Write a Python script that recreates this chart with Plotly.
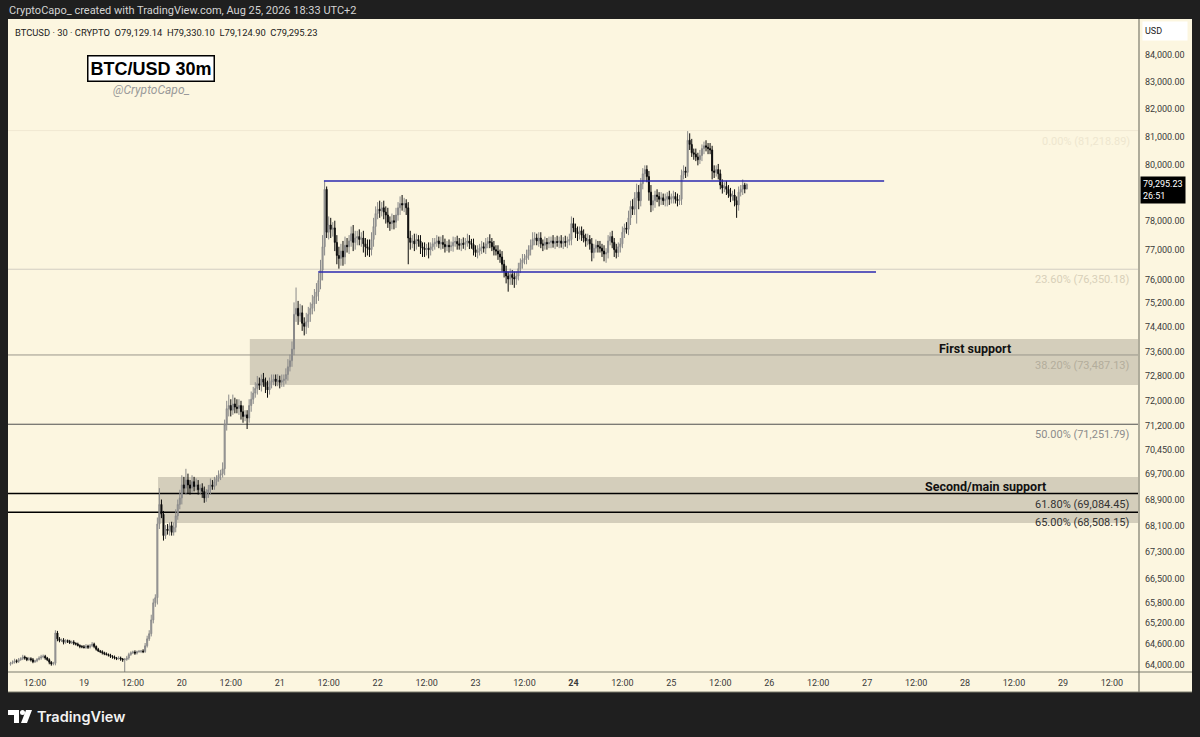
import math
import pandas as pd
import plotly.graph_objects as go

# =====================================
# DATA
# =====================================

first_open = 64020

# 30m closes, Aug 18 06:00 -> Aug 25 18:30
closes = [
    64050, 64080, 64120, 64100, 64150, 64180, 64230, 64200, 64150, 64180,
    64150, 64090, 64120, 64160, 64200, 64230, 64250, 64200, 64150, 64080,
    64030, 64050, 64920, 64750, 64700, 64720, 64650, 64700, 64680, 64640,
    64660, 64620, 64600, 64560, 64530, 64520, 64500, 64540, 64510, 64550,
    64600, 64530, 64450, 64400, 64380, 64350, 64320, 64300, 64280, 64250,
    64230, 64200, 64180, 64200, 64170, 64150, 64160, 64200, 64300, 64350,
    64370, 64340, 64380, 64390, 64400, 64380, 64550, 64750, 64900, 65300,
    65800, 65950, 68150, 68750, 68450, 67800, 68000, 67950, 68100, 67900,
    68050, 68400, 68750, 68950, 69350, 69250, 69500, 69350, 69250, 69450,
    69300, 69350, 69200, 69250, 69150, 68950, 69100, 69200, 69350, 69300,
    69450, 69550, 69650, 69700, 69850, 71250, 71750, 71850, 71700, 71900,
    71800, 71750, 71850, 71650, 71500, 71550, 71450, 71850, 72050, 72250,
    72400, 72550, 72500, 72700, 72600, 72450, 72350, 72600, 72650, 72700,
    72620, 72660, 72600, 72650, 72700, 72850, 73100, 73300, 73680, 74830,
    75030, 74780, 74880, 74530, 74430, 74580, 74830, 75030, 75180, 75430,
    75580, 75970, 76320, 77120, 79120, 77620, 77870, 77720, 77770, 77270,
    76820, 76720, 76970, 76770, 77170, 77120, 77320, 77570, 77270, 77420,
    77470, 77370, 77420, 77220, 77120, 77070, 77020, 77370, 77820, 78270,
    78420, 78370, 78470, 78320, 78220, 77970, 77920, 78020, 77970, 78220,
    78470, 78620, 78570, 78620, 78470, 77420, 77270, 77320, 77220, 77370,
    77320, 77120, 77070, 77020, 77070, 77020, 77120, 77220, 77270, 77320,
    77220, 77270, 77200, 77120, 77170, 77120, 77150, 77270, 77300, 77220,
    77170, 77240, 77200, 77270, 77320, 77240, 77200, 77020, 76920, 76970,
    77070, 77120, 77070, 77220, 77300, 77270, 77120, 77020, 76970, 76870,
    76770, 76520, 76270, 76120, 76020, 76170, 76070, 76020, 76120, 76370,
    76570, 76670, 76720, 76820, 77020, 77170, 77370, 77420, 77320, 77420,
    77220, 77170, 77270, 77220, 77270, 77320, 77240, 77300, 77270, 77320,
    77240, 77300, 77270, 77320, 77370, 77920, 77770, 77620, 77570, 77670,
    77520, 77420, 77320, 77370, 77220, 76920, 77070, 77170, 77120, 77070,
    76970, 76870, 76920, 77320, 77470, 77270, 77020, 76920, 77120, 77220,
    77620, 77770, 77720, 78120, 78520, 78420, 78820, 79020, 78720, 79320,
    79670, 79820, 79570, 79020, 78570, 78720, 78920, 78870, 78770, 78820,
    78720, 78770, 78870, 78770, 78820, 78870, 78770, 78720, 78770, 79620,
    79770, 79720, 80870, 80720, 80420, 80370, 80270, 80170, 80320, 80570,
    80670, 80620, 80570, 80520, 79770, 79720, 79820, 79670, 79270, 79170,
    79220, 79120, 78970, 78870, 78920, 78720, 78570, 79020, 79120, 79270,
    79129.14, 79295.23,
]

# wick above the body
wick_up = [
    40, 50, 60, 40, 50, 40, 60, 40, 30, 50,
    40, 50, 30, 40, 50, 60, 50, 40, 30, 40,
    30, 40, 80, 60, 50, 40, 50, 40, 30, 40,
    40, 50, 30, 40, 30, 40, 50, 60, 40, 50,
    60, 40, 30, 40, 30, 40, 30, 40, 30, 40,
    30, 40, 30, 50, 40, 30, 40, 60, 50, 40,
    40, 50, 30, 40, 30, 50, 80, 90, 100, 150,
    120, 100, 200, 500, 150, 100, 120, 150, 100, 120,
    150, 200, 150, 250, 300, 250, 350, 200, 150, 200,
    150, 200, 150, 120, 150, 150, 120, 150, 200, 150,
    150, 100, 150, 120, 200, 150, 250, 350, 200, 300,
    200, 250, 200, 150, 200, 150, 150, 200, 250, 200,
    200, 250, 200, 150, 200, 150, 200, 150, 200, 150,
    150, 200, 150, 200, 150, 200, 250, 200, 250, 400,
    700, 250, 300, 250, 200, 300, 250, 200, 300, 250,
    300, 250, 350, 400, 280, 100, 300, 250, 200, 250,
    250, 300, 250, 350, 300, 250, 200, 250, 300, 250,
    200, 250, 200, 250, 200, 250, 300, 250, 300, 250,
    250, 300, 200, 250, 200, 250, 200, 250, 200, 250,
    200, 250, 300, 200, 150, 200, 250, 200, 250, 200,
    150, 200, 150, 200, 150, 200, 150, 200, 150, 200,
    150, 200, 250, 200, 150, 200, 150, 200, 150, 200,
    200, 150, 200, 150, 250, 200, 150, 200, 150, 200,
    150, 200, 150, 200, 150, 250, 150, 200, 150, 200,
    150, 200, 150, 200, 150, 200, 150, 200, 150, 200,
    150, 200, 150, 200, 150, 200, 250, 200, 150, 200,
    200, 150, 200, 150, 200, 150, 200, 150, 200, 150,
    200, 150, 200, 150, 200, 250, 200, 150, 200, 150,
    150, 200, 150, 200, 150, 200, 150, 200, 150, 200,
    150, 200, 150, 200, 150, 200, 150, 200, 150, 200,
    200, 150, 200, 250, 200, 250, 200, 300, 250, 200,
    200, 150, 150, 200, 250, 200, 150, 200, 150, 200,
    150, 200, 150, 200, 150, 200, 150, 200, 150, 200,
    200, 150, 330, 250, 200, 150, 200, 150, 200, 150,
    150, 200, 150, 200, 150, 200, 150, 200, 150, 200,
    150, 200, 150, 200, 150, 200, 150, 200, 150, 200,
    80, 34.87,
]

# wick below the body
wick_dn = [
    40, 30, 40, 50, 40, 30, 40, 50, 40, 30,
    50, 40, 30, 40, 30, 50, 40, 50, 40, 60,
    50, 40, 60, 70, 50, 40, 60, 40, 50, 40,
    40, 50, 40, 30, 50, 40, 30, 40, 50, 40,
    40, 50, 40, 30, 40, 50, 40, 30, 40, 50,
    50, 40, 40, 30, 50, 60, 450, 40, 50, 40,
    40, 50, 40, 30, 50, 40, 30, 50, 60, 80,
    100, 120, 200, 150, 120, 150, 100, 120, 150, 100,
    100, 150, 120, 150, 200, 150, 200, 250, 200, 150,
    150, 120, 150, 150, 200, 150, 120, 150, 150, 100,
    100, 120, 100, 150, 120, 200, 200, 250, 200, 150,
    200, 150, 200, 250, 200, 150, 350, 150, 200, 150,
    150, 200, 150, 200, 150, 200, 250, 150, 200, 150,
    150, 150, 200, 150, 200, 150, 200, 150, 200, 200,
    250, 300, 200, 250, 300, 250, 200, 250, 200, 250,
    250, 300, 300, 350, 300, 200, 250, 300, 250, 300,
    300, 350, 250, 300, 250, 200, 250, 200, 300, 250,
    250, 200, 250, 300, 350, 250, 250, 200, 250, 300,
    200, 250, 200, 250, 300, 200, 250, 200, 250, 200,
    200, 250, 200, 250, 250, 900, 250, 200, 250, 200,
    200, 250, 300, 250, 200, 300, 200, 150, 200, 150,
    150, 200, 150, 200, 150, 200, 150, 200, 150, 200,
    150, 200, 150, 200, 150, 200, 150, 200, 150, 200,
    150, 200, 150, 200, 150, 200, 150, 200, 150, 200,
    200, 250, 200, 250, 430, 200, 250, 300, 200, 150,
    150, 200, 150, 200, 150, 200, 150, 200, 150, 200,
    150, 200, 150, 200, 150, 200, 150, 200, 150, 200,
    150, 200, 150, 200, 150, 200, 150, 200, 250, 200,
    200, 150, 200, 150, 200, 300, 200, 150, 200, 150,
    200, 250, 300, 200, 150, 200, 250, 200, 150, 200,
    150, 200, 150, 200, 250, 200, 200, 900, 300, 200,
    200, 250, 200, 300, 250, 200, 250, 200, 250, 200,
    150, 200, 250, 200, 150, 200, 150, 200, 150, 200,
    150, 200, 150, 200, 150, 200, 150, 200, 150, 200,
    200, 150, 200, 150, 300, 200, 150, 200, 150, 200,
    150, 200, 150, 200, 150, 200, 450, 200, 150, 200,
    150, 4.24,
]

price_ticks = [84000, 83000, 82000, 81000, 80000, 78000, 77000, 76000,
               75200, 74400, 73600, 72800, 72000, 71200, 70450, 69700,
               68900, 68100, 67300, 66500, 65800, 65200, 64600, 64000]

date_ticks = ["2026-08-18 12:00", "2026-08-19", "2026-08-19 12:00", "2026-08-20",
              "2026-08-20 12:00", "2026-08-21", "2026-08-21 12:00", "2026-08-22",
              "2026-08-22 12:00", "2026-08-23", "2026-08-23 12:00", "2026-08-24",
              "2026-08-24 12:00", "2026-08-25", "2026-08-25 12:00", "2026-08-26",
              "2026-08-26 12:00", "2026-08-27", "2026-08-27 12:00", "2026-08-28",
              "2026-08-28 12:00", "2026-08-29", "2026-08-29 12:00"]
date_labels = ["12:00", "19", "12:00", "20", "12:00", "21", "12:00", "22",
               "12:00", "23", "12:00", "<b>24</b>", "12:00", "25", "12:00", "26",
               "12:00", "27", "12:00", "28", "12:00", "29", "12:00"]

# fibonacci retracement
fib_levels = [81218.89, 76350.18, 73487.13, 71251.79, 69084.45, 68508.15]
fib_names = ["0.00%", "23.60%", "38.20%", "50.00%", "61.80%", "65.00%"]

# range box (blue lines)
range_top = 79410
range_bottom = 76255
range_top_span = ["2026-08-21 10:50", "2026-08-27 04:10"]
range_bottom_span = ["2026-08-21 09:25", "2026-08-27 02:10"]

# support zones
zone_names = ["First support", "Second/main support"]
zone_tops = [74011, 69595]
zone_bottoms = [72509, 68183]
zone_starts = ["2026-08-20 16:40", "2026-08-19 18:10"]

last_price = "79,295.23"
countdown = "26:51"

# =====================================
# CANDLES
# =====================================

times = pd.date_range("2026-08-18 06:00", periods=len(closes), freq="30min")
opens = [first_open] + closes[:-1]
highs = [max(o, c) + w for o, c, w in zip(opens, closes, wick_up)]
lows = [min(o, c) - w for o, c, w in zip(opens, closes, wick_dn)]

X_START = "2026-08-18 05:23"
X_END = "2026-08-29 18:24"

CREAM = "#fcf6e0"
DARK = "#1f1f1f"
FONT = "Roboto, Liberation Sans, Arial"

# pixel helpers (plot area is 8..1138 x 20..672)
PL, PR, PT, PB = 8, 1138, 20, 672


def px(x):
    return (x - PL) / (PR - PL)


def py(y):
    return (PB - y) / (PB - PT)


fig = go.Figure()

fig.add_trace(
    go.Candlestick(
        x=times,
        open=opens,
        high=highs,
        low=lows,
        close=closes,
        increasing=dict(line=dict(color="#8a8a8a", width=1), fillcolor="#a6a6a6"),
        decreasing=dict(line=dict(color="#0a0a0a", width=1), fillcolor="#0a0a0a"),
        whiskerwidth=0,
        showlegend=False,
        hoverinfo="skip",
    )
)

shapes = []

# cream frame + right price scale + time scale
shapes.append(dict(type="rect", xref="paper", yref="paper",
                   x0=px(8), x1=px(1192), y0=py(692), y1=py(19),
                   fillcolor=CREAM, line=dict(width=0), layer="below"))

# support zones
for top, bot, start in zip(zone_tops, zone_bottoms, zone_starts):
    shapes.append(dict(type="rect", xref="x", yref="y",
                       x0=start, x1=X_END, y0=bot, y1=top,
                       fillcolor="#d4cebb", line=dict(width=0), layer="below"))

# fib lines (drawn over the zones)
fib_line_colors = ["#f0e8d2", "#d2cdc2", "#9a968c", "#4f4f4f", "#000000", "#000000"]
fib_line_widths = [1, 1, 1, 1, 1.5, 1.5]
for lvl, col, w in zip(fib_levels, fib_line_colors, fib_line_widths):
    shapes.append(dict(type="line", xref="x", yref="y",
                       x0=X_START, x1=X_END, y0=lvl, y1=lvl,
                       line=dict(color=col, width=w), layer="below"))

# blue range lines
shapes.append(dict(type="line", xref="x", yref="y",
                   x0=range_top_span[0], x1=range_top_span[1],
                   y0=range_top, y1=range_top,
                   line=dict(color="#2b28b0", width=1.5)))
shapes.append(dict(type="line", xref="x", yref="y",
                   x0=range_bottom_span[0], x1=range_bottom_span[1],
                   y0=range_bottom, y1=range_bottom,
                   line=dict(color="#2b28b0", width=1.5)))

# scale borders
shapes.append(dict(type="line", xref="paper", yref="paper",
                   x0=px(1139), x1=px(1139), y0=py(692), y1=py(19),
                   line=dict(color="#7b7b6c", width=1.2)))
shapes.append(dict(type="line", xref="paper", yref="paper",
                   x0=px(8), x1=px(1192), y0=py(672), y1=py(672),
                   line=dict(color="#7b7b6c", width=1.2)))
shapes.append(dict(type="line", xref="paper", yref="paper",
                   x0=px(8), x1=px(1192), y0=py(692), y1=py(692),
                   line=dict(color="#7b7b6c", width=1)))

# TradingView logo mark
shapes.append(dict(type="rect", xref="paper", yref="paper",
                   x0=px(8), x1=px(19), y0=py(715), y1=py(710),
                   fillcolor="white", line=dict(width=0)))
shapes.append(dict(type="rect", xref="paper", yref="paper",
                   x0=px(14), x1=px(19), y0=py(723), y1=py(710),
                   fillcolor="white", line=dict(width=0)))
shapes.append(dict(type="circle", xref="paper", yref="paper",
                   x0=px(20), x1=px(25), y0=py(715), y1=py(710),
                   fillcolor="white", line=dict(width=0)))
shapes.append(dict(type="path", xref="paper", yref="paper",
                   path=f"M {px(26)},{py(710)} L {px(32)},{py(710)} "
                        f"L {px(27)},{py(723)} L {px(21)},{py(723)} Z",
                   fillcolor="white", line=dict(width=0)))

annotations = []

# header strip
annotations.append(dict(xref="paper", yref="paper", x=px(7), y=py(11),
                        xanchor="left", yanchor="middle", showarrow=False,
                        text="CryptoCapo_ created with TradingView.com, Aug 25, 2026 18:33 UTC+2",
                        font=dict(family=FONT, size=11, color="#d4d4d4")))
annotations.append(dict(xref="paper", yref="paper", x=px(13), y=py(32),
                        xanchor="left", yanchor="middle", showarrow=False,
                        text=f"BTCUSD · 30 · CRYPTO&nbsp;&nbsp;O79,129.14&nbsp;&nbsp;"
                             f"H79,330.10&nbsp;&nbsp;L79,124.90&nbsp;&nbsp;C{last_price}",
                        font=dict(family=FONT, size=9.4, color="#1a1a1a")))

# title box
annotations.append(dict(xref="paper", yref="paper", x=px(151), y=py(68),
                        xanchor="center", yanchor="middle", showarrow=False,
                        text="<b>BTC/USD 30m</b>", bgcolor="white",
                        bordercolor="black", borderwidth=1.5, borderpad=2,
                        font=dict(family="Liberation Sans, Arial", size=18, color="black")))
annotations.append(dict(xref="paper", yref="paper", x=px(151), y=py(90),
                        xanchor="center", yanchor="middle", showarrow=False,
                        text="<i>@CryptoCapo_</i>",
                        font=dict(family=FONT, size=12, color="#9a9a9a")))

# fib labels
fib_text_colors = ["#eee6cf", "#d8d0b9", "#b3ad9c", "#8c8c8c", "#333333", "#333333"]
for lvl, name, col in zip(fib_levels, fib_names, fib_text_colors):
    annotations.append(dict(xref="paper", yref="y", x=px(1132), y=math.log10(lvl),
                            xanchor="right", yanchor="top", yshift=-2, showarrow=False,
                            text=f"{name} ({lvl:,.2f})",
                            font=dict(family=FONT, size=11, color=col)))

# zone labels
zone_label_x = [975, 985]
for name, top, lx in zip(zone_names, zone_tops, zone_label_x):
    annotations.append(dict(xref="paper", yref="y", x=px(lx), y=math.log10(top),
                            xanchor="center", yanchor="top", yshift=0, showarrow=False,
                            text=f"<b>{name}</b>",
                            font=dict(family=FONT, size=12.5, color="#111111")))

# right scale badges
annotations.append(dict(xref="paper", yref="paper", x=px(1142), y=py(31),
                        xanchor="left", yanchor="middle", showarrow=False,
                        text="USD", width=40, height=14, align="left",
                        bgcolor="white", borderpad=2,
                        font=dict(family=FONT, size=9, color="#222222")))
annotations.append(dict(xref="paper", yref="paper", x=px(1140), y=py(190),
                        xanchor="left", yanchor="middle", showarrow=False,
                        text=f"{last_price}<br>{countdown}", align="left",
                        bgcolor="black", borderpad=2,
                        font=dict(family=FONT, size=9, color="white")))

# TradingView wordmark
annotations.append(dict(xref="paper", yref="paper", x=px(35), y=py(716),
                        xanchor="left", yanchor="middle", showarrow=False,
                        text="TradingView",
                        font=dict(family="Inter, Roboto, Arial", size=14.5,
                                  color="#f2f2f2", weight=600)))

fig.update_layout(
    width=1200,
    height=737,
    margin=dict(l=PL, r=1200 - PR, t=PT, b=737 - PB),
    paper_bgcolor=DARK,
    plot_bgcolor=CREAM,
    shapes=shapes,
    annotations=annotations,
    showlegend=False,
    xaxis=dict(
        type="date",
        range=[X_START, X_END],
        rangeslider=dict(visible=False),
        tickvals=date_ticks,
        ticktext=date_labels,
        tickfont=dict(family=FONT, size=9, color="#3a3a3a"),
        showgrid=False,
        zeroline=False,
        ticks="",
        ticklabelstandoff=4,
    ),
    yaxis=dict(
        type="log",
        side="right",
        range=[math.log10(63800), math.log10(85324)],
        tickvals=price_ticks,
        ticktext=[f"{v:,.2f}" for v in price_ticks],
        tickfont=dict(family=FONT, size=9, color="#3a3a3a"),
        showgrid=False,
        zeroline=False,
        ticks="",
        ticklabelstandoff=6,
    ),
)

# page has a default 8px body margin; remove it so the figure fills the window
fig.write_html(
    "out.html",
    config={"displayModeBar": False},
    post_script="document.body.style.margin='0px';"
                "document.body.style.backgroundColor='#1f1f1f';",
)
